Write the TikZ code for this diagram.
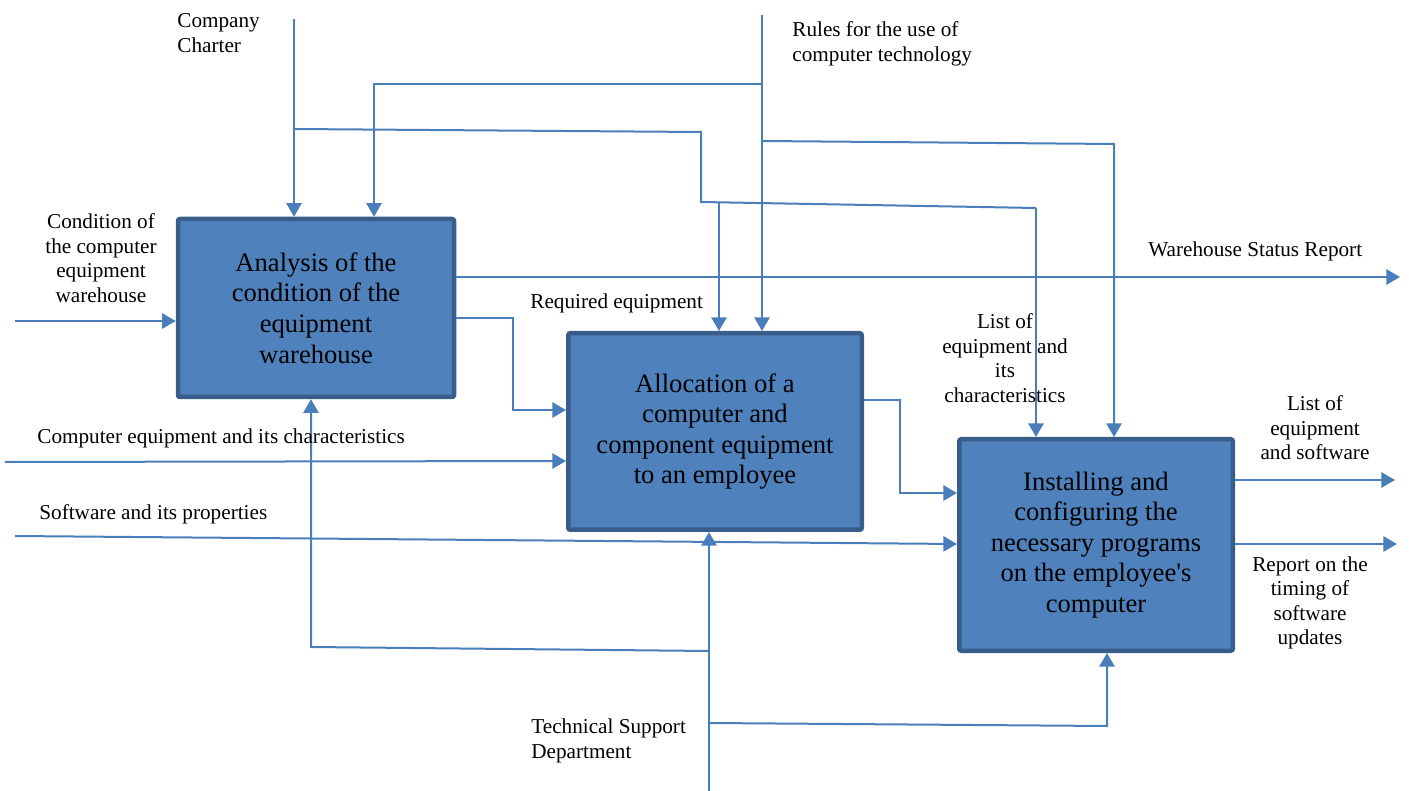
\documentclass[tikz,border=0pt]{standalone}
\usepackage{fontspec}
\setmainfont{Liberation Serif}
\usetikzlibrary{arrows.meta}
\definecolor{lineblue}{HTML}{4A7EBB}
\definecolor{boxfill}{HTML}{4F81BD}
\definecolor{boxedge}{HTML}{385D8A}
\begin{document}
\begin{tikzpicture}[x=0.5pt,y=-0.5pt,
  flow/.style={draw=lineblue, line width=1pt},
  arr/.style={flow, -{Triangle[length=6.8pt,width=7.6pt]}},
  func/.style={draw=boxedge, fill=boxfill, line width=2.25pt, rounded corners=1pt,
    align=center, inner sep=0pt, font=\fontsize{13.3}{15.3}\selectfont},
  lbl/.style={inner sep=0pt, font=\fontsize{10.6}{12.25}\selectfont}]
\useasboundingbox (0,0) rectangle (1410,791);

% function boxes
\node[func, minimum width=138pt, minimum height=89pt] (b1) at (316,308)
  {Analysis of the\\condition of the\\equipment\\warehouse};
\node[func, minimum width=146.75pt, minimum height=98.25pt] (b2) at (715,431.5)
  {Allocation of a\\computer and\\component equipment\\to an employee};
\node[func, minimum width=136.75pt, minimum height=105.75pt] (b3) at (1096,545)
  {Installing and\\configuring the\\necessary programs\\on the employee\textquotesingle s\\computer};

% free ends of the connectors
\coordinate (charter) at (294,19);
\coordinate (rules) at (762,15);
\coordinate (cond) at (15,321);
\coordinate (compeq) at (5,462);
\coordinate (soft) at (15,536);
\coordinate (tsd) at (709,791);
\coordinate (wsr) at (1400,277);
\coordinate (listout) at (1395,480);
\coordinate (repout) at (1397,544);

% controls
\draw[arr] (charter) -- (charter |- b1.north);
\draw[flow] (294,129) -- (701,132) -- (701,202) -- (1036,208);
\draw[arr] (1036,208) -- (1036,0 |- b3.north);
\draw[arr] (719,202.3) -- (719,0 |- b2.north);
\draw[arr] (rules) -- (rules |- b2.north);
\draw[arr] (762,84) -- (374,84) -- (374,0 |- b1.north);
\draw[arr] (762,141) -- (1114,144) -- (1114,0 |- b3.north);

% inputs
\draw[arr] (cond) -- (b1.west |- cond);
\draw[arr] (compeq) -- (b2.west |- 0,461);
\draw[arr] (soft) -- (b3.west |- 0,544);

% outputs and links between functions
\draw[arr] (b1.east |- wsr) -- (wsr);
\draw[arr] (b1.east |- 0,318) -- (513,318) -- (513,410) -- (b2.west |- 0,410);
\draw[arr] (b2.east |- 0,400) -- (900,400) -- (900,493) -- (b3.west |- 0,493);
\draw[arr] (b3.east |- listout) -- (listout);
\draw[arr] (b3.east |- repout) -- (repout);

% mechanism
\draw[arr] (tsd) -- (tsd |- b2.south);
\draw[arr] (709,651) -- (311,647) -- (311,0 |- b1.south);
\draw[arr] (709,723) -- (1107,726) -- (1107,0 |- b3.south);

% labels
\node[lbl, anchor=west, align=left] (lcharter) at (177,33) {Company\\Charter};
\node[lbl, anchor=west, align=left] (lrules) at (792,44) {Rules for the use of\\computer technology};
\node[lbl, align=center] (lcond) at (101,258) {Condition of\\the computer\\equipment\\warehouse};
\node[lbl, anchor=west] (lwsr) at (1148,251) {Warehouse Status Report};
\node[lbl, anchor=west] (lreq) at (530,303) {Required equipment};
\node[lbl, align=center] (llist) at (1005,358) {List of\\equipment and\\its\\characteristics};
\node[lbl, align=center] (llistout) at (1315,428) {List of\\equipment\\and software};
\node[lbl, align=center] (lrep) at (1310,603) {Report on the\\timing of\\software\\updates};
\node[lbl, anchor=west] (lcomp) at (37,438) {Computer equipment and its characteristics};
\node[lbl, anchor=west] (lsoft) at (39,514) {Software and its properties};
\node[lbl, anchor=west, align=left] (ltsd) at (531,741) {Technical Support\\Department};
\end{tikzpicture}
\end{document}
